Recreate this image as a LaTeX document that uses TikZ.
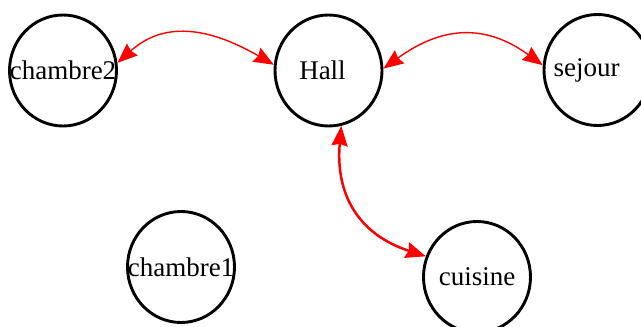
\documentclass[tikz,border=0pt]{standalone}
\usepackage{fontspec}
\setmainfont{Liberation Serif}
\usetikzlibrary{arrows.meta,shapes.geometric}
% room label set in a zero-width box so the ellipse keeps its fixed size;
% the optional argument nudges the label sideways
\newcommand\roomtext[2][0pt]{\makebox[0pt]{\kern#1\relax#2}}

\begin{document}
\begin{tikzpicture}[x=1pt,y=1pt,
  room/.style={draw=black, line width=2.9pt, ellipse,
    minimum width=107pt, minimum height=111pt, inner sep=0pt,
    font=\fontsize{27}{30}\selectfont},
  link/.style={red, line width=1.4pt,
    {Stealth[length=20pt,width=16pt,inset=2pt]}-{Stealth[length=20pt,width=16pt,inset=2pt]}},
  thicklink/.style={link, line width=2.5pt}]

\useasboundingbox (0,0) rectangle (641,327);

% rooms
\node[room] (chambre2) at (63,256.5)  {\roomtext{chambre2}};
\node[room] (Hall)     at (328.5,256.5) {\roomtext[-12pt]{Hall}};
\node[room] (sejour)   at (597.5,257)   {\roomtext[-22pt]{sejour}};
\node[room] (chambre1) at (181,60)    {\roomtext{chambre1}};
\node[room] (cuisine)  at (477,50)    {\roomtext{cuisine}};

% connections between rooms
\draw[link] (chambre2.8) to[out=42,in=150,looseness=1.1] (Hall.174);
\draw[link] (Hall.2) to[out=36,in=144,looseness=1.15] (sejour.175);
\draw[thicklink] (Hall.-77) to[out=-95,in=162,looseness=1.15] (cuisine.158);

\end{tikzpicture}
\end{document}
